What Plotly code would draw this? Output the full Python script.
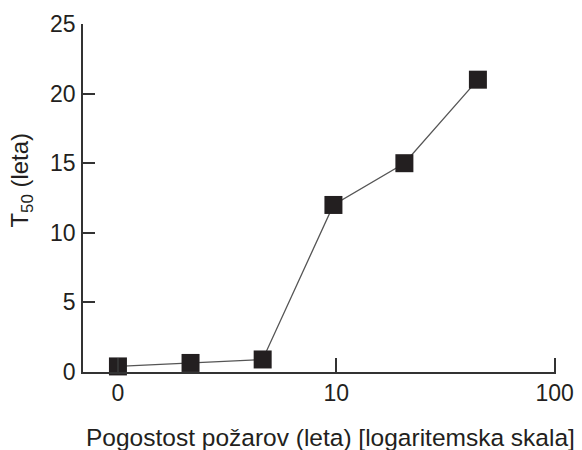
import plotly.graph_objects as go

# Fire frequency (years, log scale) vs. T50 (years)
fire_interval = [1.0, 2.15, 4.6, 9.7, 20.5, 44.5]
t50_years = [0.4, 0.65, 0.9, 12.0, 15.0, 21.0]

x_tick_vals = [1, 10, 100]
x_tick_text = ["0", "10", "100"]
y_tick_vals = [0, 5, 10, 15, 20, 25]

ink = "#231f20"
axis_col = "#333333"
font_family = "Liberation Sans, Arial, sans-serif"

fig = go.Figure()
fig.add_trace(go.Scatter(
    x=fire_interval,
    y=t50_years,
    mode="lines+markers",
    line=dict(color="#555555", width=1.3),
    marker=dict(symbol="square", size=18, color=ink, line=dict(width=0)),
    showlegend=False,
    cliponaxis=False,
))

fig.update_layout(
    width=582,
    height=450,
    margin=dict(l=83, r=26, t=24, b=78, autoexpand=False),
    paper_bgcolor="white",
    plot_bgcolor="white",
    font=dict(family=font_family, size=23, color=ink),
    xaxis=dict(
        type="log",
        range=[-0.16, 2.006],
        tickvals=x_tick_vals,
        ticktext=x_tick_text,
        ticks="inside",
        ticklen=14,
        tickwidth=1.5,
        tickcolor=axis_col,
        tickfont=dict(size=23),
        showline=True,
        linecolor=axis_col,
        linewidth=1.5,
        showgrid=False,
        zeroline=False,
        automargin=False,
    ),
    yaxis=dict(
        range=[0, 25],
        tickvals=y_tick_vals,
        ticks="inside",
        ticklen=12,
        tickwidth=1.5,
        tickcolor=axis_col,
        tickfont=dict(size=23),
        showline=True,
        linecolor=axis_col,
        linewidth=1.5,
        showgrid=False,
        zeroline=False,
        ticklabelstandoff=1,
        automargin=False,
    ),
    annotations=[
        dict(
            text="T<sub>50</sub> (leta)",
            xref="paper", yref="paper",
            x=0, y=0.55,
            xshift=-61,
            xanchor="center", yanchor="middle",
            textangle=-90,
            showarrow=False,
            font=dict(size=24, color=ink),
        ),
        dict(
            text="Pogostost požarov (leta) [logaritemska skala]",
            xref="paper", yref="paper",
            x=0.5, y=0,
            xshift=11, yshift=-65,
            xanchor="center", yanchor="middle",
            showarrow=False,
            font=dict(size=24.5, color=ink),
        ),
    ],
)

fig.write_html("out.html")
